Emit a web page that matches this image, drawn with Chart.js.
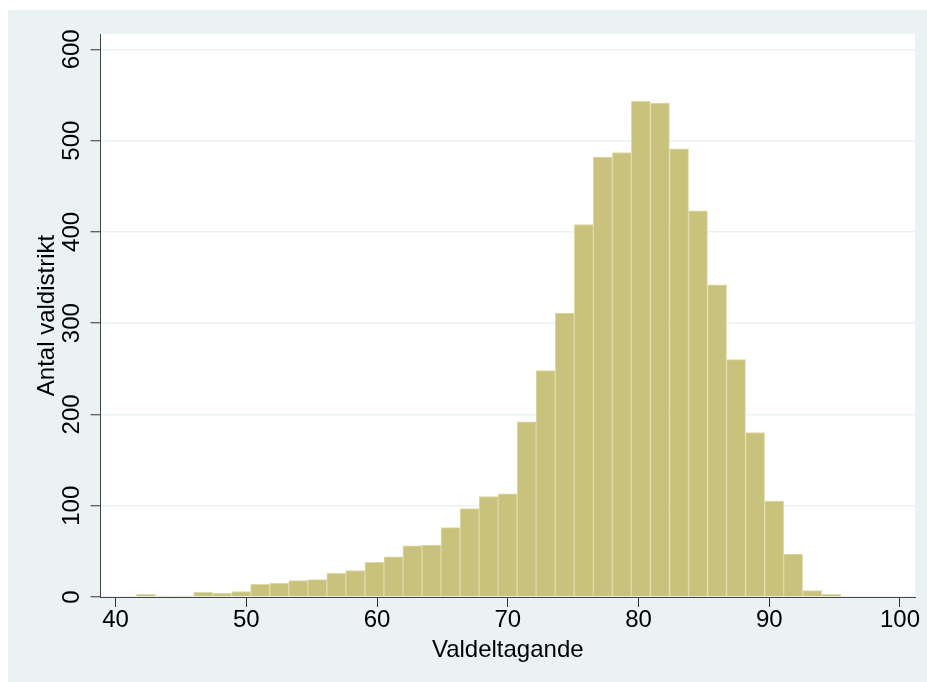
<!DOCTYPE html>
<html>
<head>
<meta charset="utf-8">
<script src="https://cdn.jsdelivr.net/npm/chart.js@4.4.1/dist/chart.umd.min.js"></script>
<style>
  html, body { margin: 0; padding: 0; background: #ffffff; }
  #frame { position: absolute; left: 8px; top: 10px; width: 919px; height: 672px; background: #eaf2f3; }
  canvas { display: block; }
</style>
</head>
<body>
<div id="frame"><canvas id="c" width="919" height="672"></canvas></div>
<script>
// ---- data ----
const binCenters = [42.33, 43.78, 45.24, 46.70, 48.15, 49.61, 51.06, 52.52, 53.98, 55.43,
                    56.89, 58.34, 59.80, 61.26, 62.71, 64.17, 65.62, 67.08, 68.54, 69.99,
                    71.45, 72.90, 74.36, 75.82, 77.27, 78.73, 80.18, 81.64, 83.10, 84.55,
                    86.01, 87.46, 88.92, 90.38, 91.83, 93.29, 94.74];
const counts = [3, 1, 1, 5, 4, 6, 14, 15, 18, 19,
                26, 29, 38, 44, 56, 57, 76, 97, 110, 113,
                192, 248, 311, 408, 482, 487, 543, 541, 491, 423,
                342, 260, 180, 105, 47, 7, 3];
const xTicks = [40, 50, 60, 70, 80, 90, 100];
const yTicks = [0, 100, 200, 300, 400, 500, 600];
const xTitle = 'Valdeltagande';
const yTitle = 'Antal valdistrikt';

// ---- font selection ----
function hasFont(name) {
  const ctx = document.createElement('canvas').getContext('2d');
  const t = 'Valdeltagande 0123456789';
  ctx.font = '40px monospace';
  const a = ctx.measureText(t).width;
  ctx.font = "40px '" + name + "', monospace";
  const b = ctx.measureText(t).width;
  return Math.abs(a - b) > 0.5;
}
const narrow = hasFont('Liberation Sans Narrow');
const family = narrow ? "'Liberation Sans Narrow', 'Liberation Sans', Arial, sans-serif" : "'Liberation Sans', Arial, sans-serif";
const fsize = narrow ? 29 : 24;

const mctx = document.createElement('canvas').getContext('2d');
mctx.font = fsize + 'px ' + family;
const widest = mctx.measureText('600').width;
const yTickPad = 28 - 10 - widest / 2;

const plotBg = {
  id: 'plotBg',
  beforeDraw(chart) {
    const { ctx, chartArea: a } = chart;
    ctx.save();
    ctx.fillStyle = '#ffffff';
    ctx.fillRect(a.left, a.top, a.right - a.left, a.bottom - a.top);
    ctx.restore();
  }
};

new Chart(document.getElementById('c'), {
  type: 'bar',
  data: {
    datasets: [{
      data: binCenters.map((x, i) => ({ x: x, y: counts[i] })),
      backgroundColor: '#c9c27d',
      borderColor: '#ddd9a6',
      borderWidth: 1,
      barPercentage: 1,
      categoryPercentage: 1
    }]
  },
  options: {
    responsive: false,
    animation: false,
    layout: { padding: { top: 24, right: 12, left: 0, bottom: 0 } },
    plugins: { legend: { display: false }, tooltip: { enabled: false } },
    scales: {
      x: {
        type: 'linear',
        offset: false,
        min: 38.85,
        max: 101.15,
        z: 1,
        afterBuildTicks(s) { s.ticks = xTicks.map(v => ({ value: v })); },
        afterFit(s) { s.height = 85; },
        grid: { offset: false, drawOnChartArea: false, drawTicks: true, tickLength: 10, tickColor: '#333333', tickWidth: 1 },
        border: { display: true, color: '#444444', width: 1 },
        ticks: { color: '#000000', font: { family: family, size: fsize, lineHeight: 1 }, padding: 1, maxRotation: 0, autoSkip: false },
        title: { display: true, text: xTitle, color: '#000000', font: { family: family, size: fsize, lineHeight: 1 }, padding: { top: 0, bottom: 19.5 } }
      },
      y: {
        type: 'linear',
        min: 0,
        max: 616.8,
        afterBuildTicks(s) { s.ticks = yTicks.map(v => ({ value: v })); },
        afterFit(s) { s.width = 92.5; },
        grid: { drawOnChartArea: true, color: '#eaf2f3', lineWidth: 1.5, drawTicks: true, tickLength: 10, tickColor: '#333333', tickWidth: 1 },
        border: { display: true, color: '#444444', width: 1 },
        ticks: { color: '#000000', font: { family: family, size: fsize, lineHeight: 1 }, padding: yTickPad, minRotation: 90, maxRotation: 90, crossAlign: 'center', autoSkip: false },
        title: { display: true, text: yTitle, color: '#000000', font: { family: family, size: fsize, lineHeight: 1 }, padding: { top: 39 - fsize / 2, bottom: 0 } }
      }
    }
  },
  plugins: [plotBg]
});
</script>
</body>
</html>
